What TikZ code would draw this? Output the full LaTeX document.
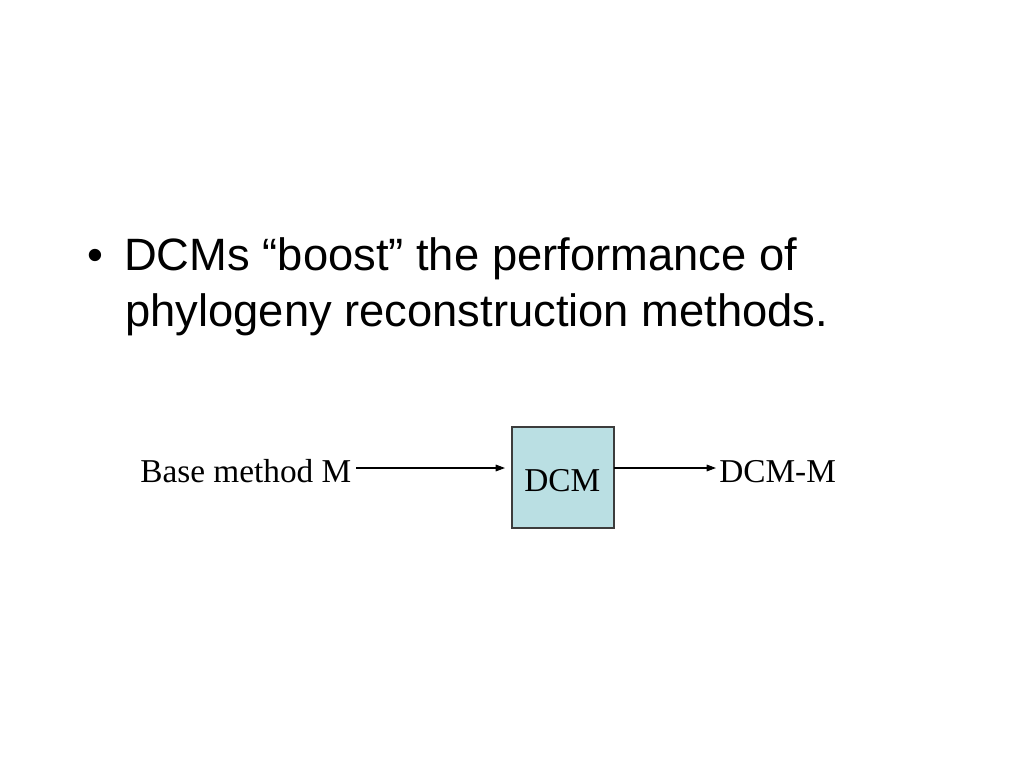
\documentclass[tikz,border=0pt]{standalone}
\usepackage{fontspec}
\setmainfont{Liberation Serif}
\newfontfamily\slidefont{Liberation Sans}
\usetikzlibrary{arrows.meta}
\definecolor{boxblue}{RGB}{186,223,227}
\definecolor{boxline}{RGB}{60,60,60}
\tikzset{
  bullettext/.style={inner sep=0pt,anchor=base west,font=\slidefont\fontsize{34}{40}\selectfont},
  flowtext/.style={inner sep=0pt,anchor=base west,font=\fontsize{25}{28}\selectfont},
  flowbox/.style={draw=boxline,line width=1pt,fill=boxblue,inner sep=0pt,
    minimum width=76.5pt,minimum height=75.75pt},
  flowarrow/.style={line width=0.8pt,-{Triangle[length=7pt,width=5pt]}}
}
\begin{document}
\begin{tikzpicture}[x=0.75pt,y=-0.75pt]
     \useasboundingbox (0,0) rectangle (1024,768);
     % bullet point
     \node[bullettext] (dot) at (87,270) {•};
     \node[bullettext] (line1) at (124,270) {DCMs “boost” the performance of};
     \node[bullettext] (line2) at (125,326) {phylogeny reconstruction methods.};
     % flow
     \node[flowtext] (base) at (140,482) {Base method M};
     \node[flowbox] (dcm) at (563,477.5) {};
     \node[flowtext] (dcmtext) at (524,491) {DCM};
     \node[flowtext] (result) at (719,482) {DCM-M};
     \coordinate (in1) at (356,468);
     \coordinate (in2) at (505,468);
     \coordinate (out1) at (614,468);
     \coordinate (out2) at (716,468);
     \draw[flowarrow] (in1) -- (in2);
     \draw[flowarrow] (out1) -- (out2);
\end{tikzpicture}
\end{document}
